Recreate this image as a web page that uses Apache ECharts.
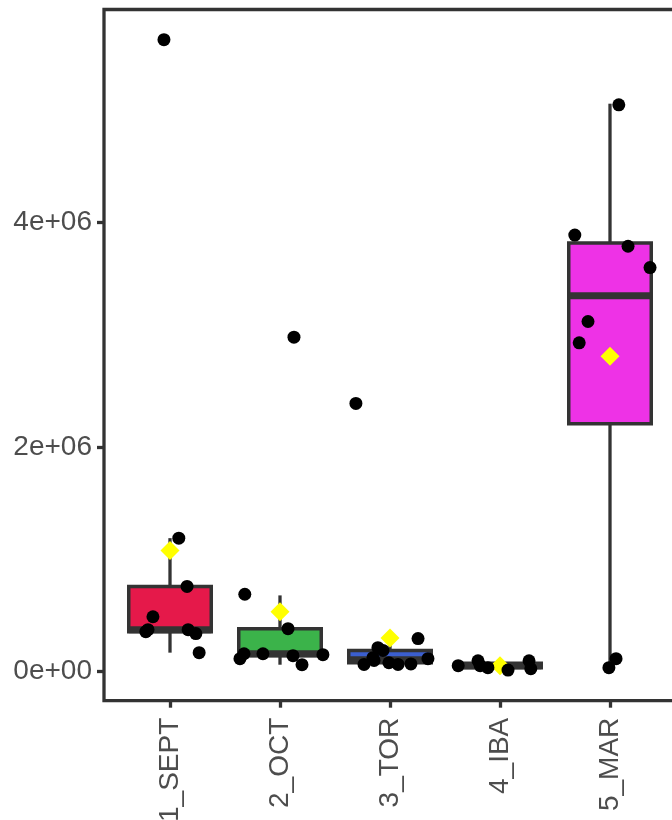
<!DOCTYPE html>
<html><head><meta charset="utf-8">
<script src="https://cdn.jsdelivr.net/npm/echarts@6/dist/echarts.min.js"></script>
<style>html,body{margin:0;padding:0;background:#fff}#c{width:672px;height:820px}</style>
</head><body><div id="c"></div>
<script>
// ---- data ----
const categories = ['1_SEPT', '2_OCT', '3_TOR', '4_IBA', '5_MAR'];
const boxLow    = [170000,  62500,  54000,  18000,   36000];
const boxQ1     = [357000, 143000,  80000,  35000, 2210000];
const boxMedian = [375000, 160000, 107000,  54000, 3350000];
const boxQ3     = [760000, 384000, 190000,  76000, 3820000];
const boxHigh   = [1190000, 680000, 285000, 98000, 5060000];
const means     = [1080000, 535000, 300000, 54000, 2810000];
// jittered points: [horizontal jitter (category units), value]
const pointsSEPT = [[-0.055, 5630000], [0.08, 1190000], [0.155, 760000], [-0.155, 490000], [-0.2, 375000], [-0.22, 357000], [0.165, 375000], [0.235, 340000], [0.265, 170000]];
const pointsOCT  = [[0.127, 2980000], [-0.32, 690000], [0.073, 384000], [-0.327, 160000], [-0.364, 116000], [-0.155, 160000], [0.118, 143000], [0.39, 152000], [0.2, 62500]];
const pointsTOR  = [[-0.31, 2390000], [0.255, 295000], [-0.11, 214000], [-0.064, 190000], [-0.155, 125000], [-0.236, 65000], [-0.145, 100000], [-0.01, 80000], [0.073, 65000], [0.19, 70000], [0.345, 116000]];
const pointsIBA  = [[-0.38, 54000], [-0.2, 98000], [-0.18, 54000], [-0.11, 36000], [0.073, 15000], [0.264, 98000], [0.28, 27000]];
const pointsMAR  = [[0.08, 5050000], [-0.32, 3890000], [0.164, 3790000], [0.364, 3600000], [-0.2, 3120000], [-0.28, 2930000], [0.055, 116000], [-0.01, 36000]];
const yTicks = [0, 2000000, 4000000];
const xTicks = [1, 2, 3, 4, 5];

// ---- styles ----
const boxColors = ['#E5194A', '#3BB34A', '#3B5FCF', '#F5A623', '#EE32E6'];
const dark = '#333333';
const textColor = '#4D4D4D';
const fontSize = 28;
const halfBox = 0.375;

const allPoints = [pointsSEPT, pointsOCT, pointsTOR, pointsIBA, pointsMAR];
const scatterData = [];
allPoints.forEach((arr, i) => arr.forEach(p => scatterData.push([i + 1 + p[0], p[1]])));

function sci(v) {
  if (v === 0) return '0e+00';
  const e = Math.floor(Math.log10(Math.abs(v)));
  const m = v / Math.pow(10, e);
  return m + 'e+' + String(e).padStart(2, '0');
}

const chart = echarts.init(document.getElementById('c'), null, {renderer: 'canvas'});
chart.setOption({
  animation: false,
  backgroundColor: '#ffffff',
  grid: {left: 104, top: 9.5, width: 572, height: 691.2, show: true,
         containLabel: false, outerBoundsMode: 'none',
         borderColor: dark, borderWidth: 3.3, backgroundColor: 'transparent'},
  xAxis: {
    type: 'value', min: 0.4, max: 5.6,
    splitLine: {show: false},
    axisLine: {show: false, onZero: false},
    axisTick: {show: true, length: 7, customValues: xTicks, lineStyle: {color: dark, width: 3.3}},
    axisLabel: {show: true, rotate: 90, margin: 17, customValues: xTicks,
      color: textColor, fontSize: fontSize, fontFamily: 'Liberation Sans, Arial, sans-serif',
      formatter: v => categories[Math.round(v) - 1] || ''}
  },
  yAxis: {
    type: 'value', min: -258000, max: 5899000,
    splitLine: {show: false},
    axisLine: {show: false, onZero: false},
    axisTick: {show: true, length: 7, customValues: yTicks, lineStyle: {color: dark, width: 3.3}},
    axisLabel: {show: true, margin: 12, customValues: yTicks,
      color: textColor, fontSize: fontSize, fontFamily: 'Liberation Sans, Arial, sans-serif',
      formatter: v => sci(v)}
  },
  series: [
    {
      type: 'custom', z: 2,
      data: categories.map((c, i) => [i + 1, boxLow[i], boxQ1[i], boxMedian[i], boxQ3[i], boxHigh[i]]),
      renderItem: (params, api) => {
        const x = api.value(0);
        const lo = api.coord([x, api.value(1)]);
        const q1 = api.coord([x - halfBox, api.value(2)]);
        const md = api.coord([x - halfBox, api.value(3)]);
        const q3 = api.coord([x + halfBox, api.value(4)]);
        const hi = api.coord([x, api.value(5)]);
        const mdR = api.coord([x + halfBox, api.value(3)]);
        return {type: 'group', children: [
          {type: 'line', shape: {x1: lo[0], y1: lo[1], x2: lo[0], y2: q1[1]}, style: {stroke: dark, lineWidth: 3.3}},
          {type: 'line', shape: {x1: hi[0], y1: q3[1], x2: hi[0], y2: hi[1]}, style: {stroke: dark, lineWidth: 3.3}},
          {type: 'rect', shape: {x: q1[0], y: q3[1], width: q3[0] - q1[0], height: q1[1] - q3[1]},
           style: {fill: boxColors[params.dataIndex], stroke: dark, lineWidth: 3.5}},
          {type: 'line', shape: {x1: md[0], y1: md[1], x2: mdR[0], y2: mdR[1]}, style: {stroke: dark, lineWidth: 7}}
        ]};
      }
    },
    {
      type: 'scatter', z: 4, symbol: 'diamond', symbolSize: 19,
      itemStyle: {color: '#FFFF00', opacity: 1},
      data: categories.map((c, i) => [i + 1, means[i]])
    },
    {
      type: 'scatter', z: 5, symbol: 'circle', symbolSize: 13,
      itemStyle: {color: '#000000', opacity: 1},
      data: scatterData
    }
  ]
});
</script></body></html>
